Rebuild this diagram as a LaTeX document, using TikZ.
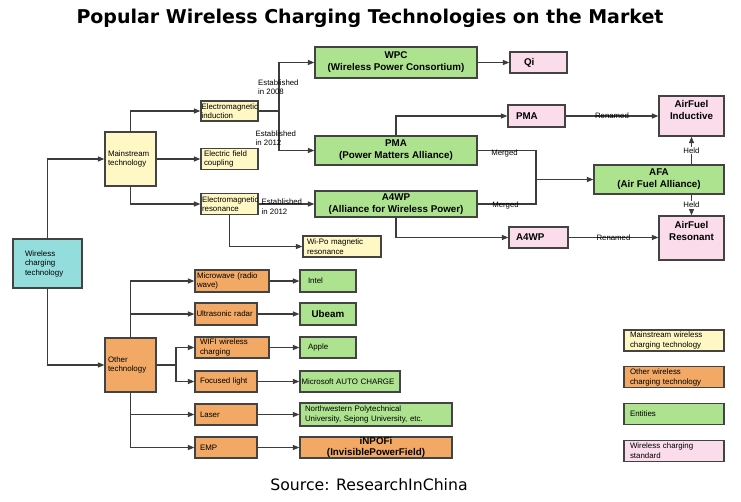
\documentclass[tikz,border=0pt]{standalone}
\usepackage{fontspec}
\setmainfont{Liberation Sans}
\newfontfamily\headfont{DejaVu Sans}
\usepackage{tikz}
\usetikzlibrary{arrows.meta, positioning}

\definecolor{cyanfill}{HTML}{93DEDC}
\definecolor{yelfill}{HTML}{FFF8C5}
\definecolor{orgfill}{HTML}{F1A965}
\definecolor{grnfill}{HTML}{ADE28F}
\definecolor{pnkfill}{HTML}{FADCEA}
\definecolor{boxline}{HTML}{434343}
\definecolor{linegray}{HTML}{3C3C3C}

\begin{document}
\begin{tikzpicture}[x=1pt, y=-1pt, node distance=14.5pt,
   box/.style={draw=boxline, line width=1.2pt, inner ysep=1pt, align=left,
               font=\fontsize{7.9}{9.5}\selectfont},
   sz/.style n args={3}{minimum width=#1, minimum height=#2, inner xsep=#3, text width=#1-2*#3},
   big/.style={draw=boxline, line width=1.2pt, inner sep=1pt, align=center,
               font=\bfseries\fontsize{9.8}{12}\selectfont},
   bsz/.style 2 args={minimum width=#1, minimum height=#2},
   bold/.style={font=\bfseries\fontsize{9.8}{12}\selectfont},
   lbl/.style={inner sep=0pt, align=left, font=\fontsize{7.8}{9.5}\selectfont},
   ln/.style={draw=linegray, line width=1.2pt},
   arr/.style={ln, -{Triangle[length=6.5pt, width=5pt]}}]
   \useasboundingbox[fill=white] (0,0) rectangle (741,501);

   % Title and source
   \node[font=\headfont\bfseries\fontsize{19}{22}\selectfont] (title) at (370,18)
      {Popular Wireless Charging Technologies on the Market};
   \node[font=\headfont\fontsize{15.7}{18}\selectfont] (src) at (369,485) {Source: ResearchInChina};

   % Root
   \node[box, fill=cyanfill, sz={69}{49}{12}] (wct) at (47.5,263.5) {Wireless\\charging\\technology};

   % Mainstream technology
   \node[box, fill=yelfill, sz={51}{54}{3}] (mst) at (130.5,159) {Mainstream\\technology};
   \node[box, fill=yelfill, sz={57}{20}{0.5}] (emi) at (229.5,111) {Electromagnetic\\induction};
   \node[box, fill=yelfill, sz={57}{21}{3}] (efc) at (229.5,159) {Electric field\\coupling};
   \node[box, fill=yelfill, sz={57}{21}{1}] (emr) at (229.5,204) {Electromagnetic\\resonance};
   \node[box, fill=yelfill, sz={78}{21}{4}] (wipo) at (342,246.5) {Wi-Po magnetic\\resonance};

   % Alliances and standards
   \node[big, fill=grnfill, bsz={162}{31}] (wpc) at (396,62.5) {WPC\\(Wireless Power Consortium)};
   \node[big, fill=grnfill, bsz={162}{29}] (pmag) at (396,150.5) {PMA\\(Power Matters Alliance)};
   \node[big, fill=grnfill, bsz={162}{26}] (a4g) at (396,204) {A4WP\\(Alliance for Wireless Power)};
   \node[box, bold, fill=pnkfill, sz={57}{21}{14}] (qi) at (538.5,62.5) {Qi};
   \node[box, bold, fill=pnkfill, sz={57}{22}{8}] (pmap) at (536.5,116) {PMA};
   \node[box, bold, fill=pnkfill, sz={59}{21}{7}] (a4p) at (538.5,237.5) {A4WP};
   \node[big, fill=pnkfill, bsz={65}{40}, text depth=13pt] (afi) at (691.5,116) {AirFuel\\Inductive};
   \node[big, fill=grnfill, bsz={130}{29}] (afa) at (659,179.5) {AFA\\(Air Fuel Alliance)};
   \node[big, fill=pnkfill, bsz={65}{44}, text depth=14pt] (afr) at (691.5,238) {AirFuel\\Resonant};

   % Other technology
   \node[box, fill=orgfill, sz={51}{54}{3}] (oth) at (130.5,365) {Other\\technology};
   \node[box, fill=orgfill, sz={74}{22}{2}] (mw) at (232,281) {Microwave (radio\\wave)};
   \node[box, fill=orgfill, sz={62}{22}{1.5}] (us) at (226,314) {Ultrasonic radar};
   \node[box, fill=orgfill, sz={74}{21}{5}] (wifi) at (232,347.5) {WIFI wireless\\charging};
   \node[box, fill=orgfill, sz={62}{21}{5}] (fl) at (226,381.5) {Focused light};
   \node[box, fill=orgfill, sz={62}{21}{5}] (las) at (226,414.5) {Laser};
   \node[box, fill=orgfill, sz={62}{21}{5}] (emp) at (226,447.5) {EMP};

   % Entities
   \node[box, fill=grnfill, sz={56}{22}{8}] (intel) at (328,281) {Intel};
   \node[big, fill=grnfill, bsz={56}{22}] (ubeam) at (328,314) {Ubeam};
   \node[box, fill=grnfill, sz={56}{21}{8}] (apple) at (328,347.5) {Apple};
   \node[box, fill=grnfill, sz={100}{21}{1.5}] (ms) at (350,381.5) {Microsoft AUTO CHARGE};
   \node[box, fill=grnfill, sz={152}{23}{5}] (nwpu) at (376,414.5)
      {Northwestern Polytechnical\\University, Sejong University, etc.};
   \node[big, fill=orgfill, bsz={152}{21}, inner sep=0pt, font=\bfseries\fontsize{9.8}{11}\selectfont]
      (inpofi) at (376,447.5) {iNPOFi\\(InvisiblePowerField)};

   % Legend
   \node[box, fill=yelfill, sz={100}{21}{6}] (lg1) at (674,340.5) {Mainstream wireless\\charging technology};
   \node[box, fill=orgfill, sz={100}{21}{6}] (lg2) [below=of lg1] {Other wireless\\charging technology};
   \node[box, fill=grnfill, sz={100}{21}{6}] (lg3) [below=of lg2] {Entities};
   \node[box, fill=pnkfill, sz={100}{21}{6}] (lg4) [below=of lg3] {Wireless charging\\standard};

   % Junctions
   \coordinate (j1) at (279,111);
   \coordinate (j2) at (536,179.5);
   \coordinate (j3) at (176,365);

   % Connectors: mainstream branch
   \draw[arr] (wct.north) |- (mst.west);
   \draw[arr] (wct.south) |- (oth.west);
   \draw[arr] (mst.north) |- (emi.west);
   \draw[arr] (mst.east) -- (efc.west);
   \draw[arr] (mst.south) |- (emr.west);
   \draw[ln] (emi.east) -- (j1);
   \draw[arr] (j1) |- (wpc.west);
   \draw[arr] (j1) |- (pmag.west);
   \draw[arr] (emr.east) -- (a4g.west);
   \draw[arr] (emr.south) |- (wipo.west);
   \node[lbl, anchor=west] (est1) at (258,87) {Established\\in 2008};
   \node[lbl, anchor=west] (est2) at (255.5,138) {Established\\in 2012};
   \node[lbl, anchor=west] (est3) at (261.5,206.5) {Established\\in 2012};

   % Connectors: alliances
   \draw[arr] (wpc) -- (qi);
   \draw[arr] (pmag.north) |- (pmap.west);
   \draw[arr] (pmap) -- node[lbl] {Renamed} (pmap -| afi.west);
   \draw[ln] (pmag.east) -| (j2);
   \draw[ln] (a4g.east) -| (j2);
   \draw[arr] (j2) -- (afa.west);
   \node[lbl] (mrg1) at (504.5,153) {Merged};
   \node[lbl] (mrg2) at (505.5,205) {Merged};
   \draw[arr] (a4g.south) |- (a4p.west);
   \draw[arr] (a4p.east) -- node[lbl] {Renamed} (a4p.east -| afr.west);
   \draw[arr] (afa.north -| afi.south) -- node[lbl, fill=white, inner sep=1pt] {Held} (afi.south);
   \draw[arr] (afa.south -| afr.north) -- node[lbl, fill=white, inner sep=1pt] {Held} (afr.north);

   % Connectors: other branch
   \draw[arr] (oth.north) |- (mw.west);
   \draw[arr] (oth.north |- us.west) -- (us.west);
   \draw[arr] (oth.south) |- (emp.west);
   \draw[arr] (oth.south |- las.west) -- (las.west);
   \draw[ln] (oth.east) -- (j3);
   \draw[arr] (j3) |- (wifi.west);
   \draw[arr] (j3) |- (fl.west);
   \draw[arr] (mw) -- (intel);
   \draw[arr] (us) -- (ubeam);
   \draw[arr] (wifi) -- (apple);
   \draw[arr] (fl) -- (ms);
   \draw[arr] (las) -- (nwpu);
   \draw[arr] (emp) -- (inpofi);
\end{tikzpicture}
\end{document}
